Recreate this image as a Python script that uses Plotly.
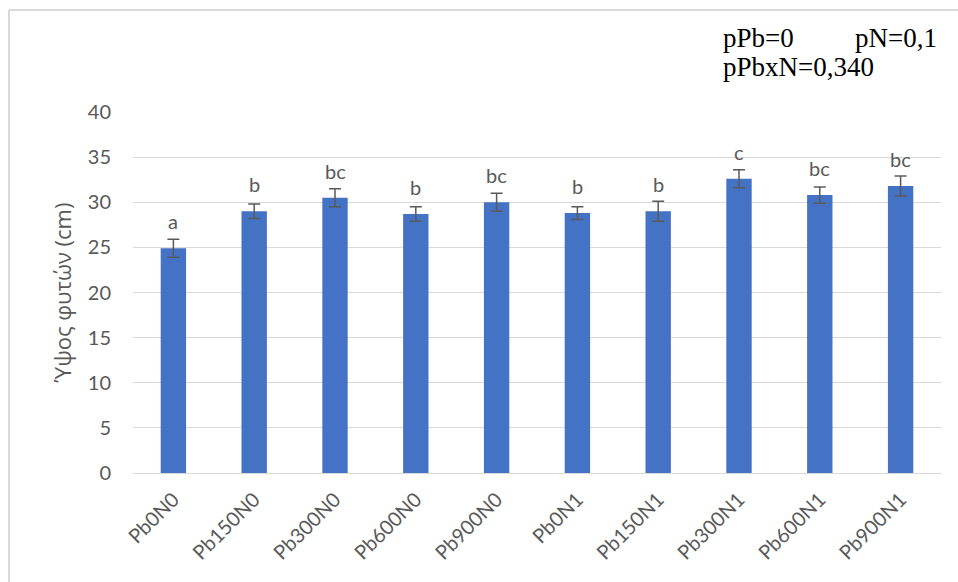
import plotly.graph_objects as go

# Plant height per treatment (mean ± error) and significance groups
treatments = ["Pb0N0", "Pb150N0", "Pb300N0", "Pb600N0", "Pb900N0",
              "Pb0N1", "Pb150N1", "Pb300N1", "Pb600N1", "Pb900N1"]
height_cm = [24.9, 29.0, 30.5, 28.7, 30.0, 28.8, 29.0, 32.6, 30.8, 31.8]
height_err = [1.0, 0.8, 1.0, 0.8, 1.0, 0.7, 1.1, 1.0, 0.9, 1.1]
groups = ["a", "b", "bc", "b", "bc", "b", "b", "c", "bc", "bc"]
y_ticks = [0, 5, 10, 15, 20, 25, 30, 35, 40]

W, H = 958, 582
ML, MR, MT, MB = 133, 17, 112, 109
PW, PH = W - ML - MR, H - MT - MB

GREY = "#595959"
GRID = "#d9d9d9"
FONT = "Lato, Noto Sans, sans-serif"

fig = go.Figure(go.Bar(
    x=treatments,
    y=height_cm,
    marker=dict(color="#4472C4", line=dict(width=0)),
    error_y=dict(type="data", array=height_err, visible=True,
                 color=GREY, thickness=1.5, width=6),
))

# Significance letters above each bar
for t, v, g in zip(treatments, height_cm, groups):
    fig.add_annotation(x=t, y=v, text=g, showarrow=False,
                       yanchor="bottom", yshift=13,
                       font=dict(family=FONT, size=20, color=GREY))

# p-values of the two-way analysis
pfont = dict(family="Liberation Serif, Times New Roman, serif", size=27, color="#000000")
def px_x(px):
    return (px - ML) / PW
def px_y(py):
    return (H - MB - py) / PH

fig.add_annotation(xref="paper", yref="paper", x=px_x(721), y=px_y(48),
                   text="pPb=0", showarrow=False, xanchor="left", yanchor="bottom",
                   font=pfont, yshift=-7)
fig.add_annotation(xref="paper", yref="paper", x=px_x(853), y=px_y(48),
                   text="pN=0,1", showarrow=False, xanchor="left", yanchor="bottom",
                   font=pfont, yshift=-7)
fig.add_annotation(xref="paper", yref="paper", x=px_x(721), y=px_y(77),
                   text="pPbxN=0,340", showarrow=False, xanchor="left", yanchor="bottom",
                   font=pfont, yshift=-7)

# Chart frame
fig.add_shape(type="line", xref="paper", yref="paper",
              x0=px_x(9), x1=px_x(9), y0=px_y(H), y1=px_y(10),
              line=dict(color=GRID, width=2))
fig.add_shape(type="line", xref="paper", yref="paper",
              x0=px_x(9), x1=px_x(W), y0=px_y(10), y1=px_y(10),
              line=dict(color=GRID, width=2))

fig.update_layout(
    width=W, height=H,
    margin=dict(l=ML, r=MR, t=MT, b=MB, autoexpand=False),
    paper_bgcolor="white", plot_bgcolor="white",
    bargap=0.686,
    showlegend=False,
    font=dict(family=FONT, size=20, color=GREY),
)
fig.update_xaxes(
    tickangle=-45, showgrid=False, showline=True, linecolor=GRID, linewidth=1,
    tickfont=dict(family=FONT, size=20, color=GREY), ticks="",
    ticklabelstandoff=6,
)
fig.update_yaxes(
    range=[0, 40], tickvals=y_ticks, showgrid=True, gridcolor=GRID, gridwidth=1,
    zeroline=False, showline=False, ticks="",
    tickfont=dict(family=FONT, size=20, color=GREY), ticklabelstandoff=21,
    title=dict(text="Ύψος φυτών (cm)", standoff=10,
               font=dict(family="Open Sans, Noto Sans, sans-serif", size=22, color=GREY)),
)

fig.write_html("out.html")
